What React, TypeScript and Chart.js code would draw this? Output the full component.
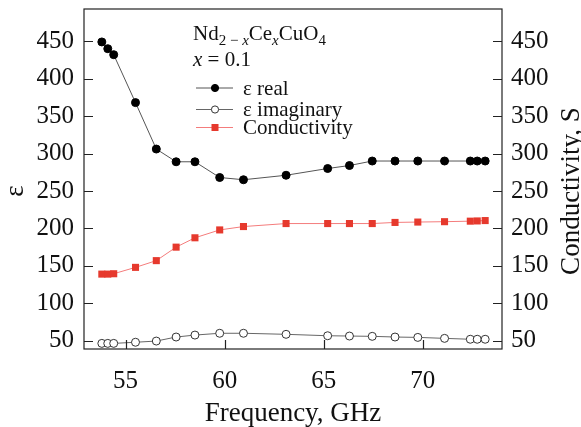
import React, { useEffect, useRef } from 'react';
import { Chart, registerables } from 'chart.js';

Chart.register(...registerables);

// ---- data ----
const frequency = [53.8, 54.1, 54.4, 55.5, 56.55, 57.55, 58.5, 59.75, 60.95, 63.1, 65.2, 66.3, 67.45, 68.6, 69.75, 71.1, 72.4, 72.75, 73.15];
const epsReal = [449, 440, 432, 368, 306, 289, 289, 268, 265, 271, 280, 284, 290, 290, 290, 290, 290, 290, 290];
const epsImag = [46.5, 46.5, 46.5, 48, 49.6, 55, 57.6, 60, 60, 58.6, 56.7, 56.3, 55.9, 55, 54.5, 53.2, 52, 52, 52];
const conductivity = [139, 139, 139.5, 148, 157, 175, 187.5, 198, 202.5, 206.5, 206.5, 206.5, 206.5, 208, 208.5, 209, 209.7, 210, 210.5];

const xTicks = [55, 60, 65, 70];
const yTicks = [50, 100, 150, 200, 250, 300, 350, 400, 450];
const xMin = 52.9;
const xMax = 74.0;
const yMin = 39;
const yMax = 493;

const seriesLabels = ['ε real', 'ε imaginary', 'Conductivity'];
const xTitle = 'Frequency, GHz';
const yTitle = 'ε';
const y2Title = 'Conductivity, S';

const SERIF = '"Liberation Serif", "Times New Roman", serif';

const framePlugin = {
  id: 'frameAndTicks',
  afterDraw(chart: any) {
    const { ctx, chartArea: ca, scales } = chart;
    ctx.save();
    ctx.strokeStyle = '#222';
    ctx.lineWidth = 1.2;
    ctx.strokeRect(ca.left, ca.top, ca.right - ca.left, ca.bottom - ca.top);
    const tl = 9;
    ctx.beginPath();
    scales.x.ticks.forEach((t: any) => {
      const px = Math.round(scales.x.getPixelForValue(t.value)) + 0.5;
      ctx.moveTo(px, ca.bottom);
      ctx.lineTo(px, ca.bottom - tl);
    });
    scales.y.ticks.forEach((t: any) => {
      const py = Math.round(scales.y.getPixelForValue(t.value)) + 0.5;
      ctx.moveTo(ca.left, py);
      ctx.lineTo(ca.left + tl, py);
    });
    scales.y2.ticks.forEach((t: any) => {
      const py = Math.round(scales.y2.getPixelForValue(t.value)) + 0.5;
      ctx.moveTo(ca.right, py);
      ctx.lineTo(ca.right - tl, py);
    });
    ctx.stroke();

    // vertical axis titles
    ctx.fillStyle = '#111';
    ctx.font = `27px ${SERIF}`;
    ctx.textAlign = 'center';
    ctx.textBaseline = 'middle';
    const midY = (ca.top + ca.bottom) / 2 + 12;
    ctx.save();
    ctx.translate(ca.left - 68, midY);
    ctx.rotate(-Math.PI / 2);
    ctx.fillText(yTitle, 0, 0);
    ctx.restore();
    ctx.save();
    ctx.translate(ca.right + 70, midY);
    ctx.rotate(-Math.PI / 2);
    ctx.fillText(y2Title, 0, 0);
    ctx.restore();
    ctx.restore();
  },
};

const legendPlugin = {
  id: 'customLegend',
  afterDraw(chart: any) {
    const { ctx, chartArea: ca } = chart;
    const x0 = ca.left + 109;
    ctx.save();
    ctx.fillStyle = '#111';
    ctx.textAlign = 'left';
    ctx.textBaseline = 'alphabetic';
    const big = `21px ${SERIF}`;
    const bigIt = `italic 21px ${SERIF}`;
    const sub = `15px ${SERIF}`;
    const subIt = `italic 15px ${SERIF}`;
    const base1 = ca.top + 31;
    const parts: [string, string, number][] = [
      ['Nd', big, 0],
      ['2 − ', sub, 5],
      ['x', subIt, 5],
      ['Ce', big, 0],
      ['x', subIt, 5],
      ['CuO', big, 0],
      ['4', sub, 5],
    ];
    let cx = x0;
    parts.forEach(([txt, font, dy]) => {
      ctx.font = font;
      ctx.fillText(txt, cx, base1 + dy);
      cx += ctx.measureText(txt).width;
    });
    const base2 = ca.top + 57;
    ctx.font = bigIt;
    ctx.fillText('x', x0, base2);
    const w = ctx.measureText('x').width;
    ctx.font = big;
    ctx.fillText(' = 0.1', x0 + w, base2);

    const rows = [ca.top + 79, ca.top + 100.5, ca.top + 118.5];
    chart.data.datasets.forEach((ds: any, i: number) => {
      const y = rows[i];
      ctx.strokeStyle = ds.borderColor;
      ctx.lineWidth = 1;
      ctx.beginPath();
      ctx.moveTo(x0 + 3, y);
      ctx.lineTo(x0 + 40, y);
      ctx.stroke();
      const mx = x0 + 22;
      ctx.fillStyle = ds.pointBackgroundColor;
      ctx.strokeStyle = ds.pointBorderColor;
      if (ds.pointStyle === 'rect') {
        ctx.fillRect(mx - 3.5, y - 3.5, 7, 7);
      } else {
        ctx.beginPath();
        ctx.arc(mx, y, 3.6, 0, Math.PI * 2);
        ctx.fill();
        ctx.stroke();
      }
      ctx.fillStyle = '#111';
      ctx.font = big;
      ctx.textBaseline = 'middle';
      ctx.fillText(ds.label, x0 + 50, y + 1);
    });
    ctx.restore();
  },
};

export default function App() {
  const ref = useRef<HTMLCanvasElement | null>(null);
  useEffect(() => {
    if (!ref.current) return;
    const tickFont = { family: SERIF, size: 25 };
    const noPadV = (s: any, w: number) => { s.width = w; s.paddingTop = 0; s.paddingBottom = 0; };
    const chart = new Chart(ref.current, {
      type: 'line',
      data: {
        datasets: [
          {
            label: seriesLabels[0],
            data: frequency.map((f, i) => ({ x: f, y: epsReal[i] })),
            yAxisID: 'y',
            borderColor: '#555',
            borderWidth: 1,
            pointBackgroundColor: '#000',
            pointBorderColor: '#000',
            pointRadius: 4,
            pointBorderWidth: 1,
            pointStyle: 'circle',
          },
          {
            label: seriesLabels[1],
            data: frequency.map((f, i) => ({ x: f, y: epsImag[i] })),
            yAxisID: 'y',
            borderColor: '#666',
            borderWidth: 1,
            pointBackgroundColor: '#fff',
            pointBorderColor: '#333',
            pointRadius: 4,
            pointBorderWidth: 1,
            pointStyle: 'circle',
          },
          {
            label: seriesLabels[2],
            data: frequency.map((f, i) => ({ x: f, y: conductivity[i] })),
            yAxisID: 'y2',
            borderColor: '#f47c7c',
            borderWidth: 1,
            pointBackgroundColor: '#e6392d',
            pointBorderColor: '#e6392d',
            pointRadius: 5,
            pointBorderWidth: 0,
            pointStyle: 'rect',
          },
        ] as any,
      },
      options: {
        responsive: false,
        animation: false,
        layout: { padding: { top: 9, left: 0, right: 0, bottom: 0 } },
        plugins: { legend: { display: false }, tooltip: { enabled: false } },
        scales: {
          x: {
            type: 'linear',
            min: xMin,
            max: xMax,
            afterBuildTicks: (s: any) => { s.ticks = xTicks.map((v) => ({ value: v })); },
            afterFit: (s: any) => { s.height = 78; s.paddingLeft = 0; s.paddingRight = 0; },
            grid: { display: false, drawTicks: false },
            border: { display: false },
            ticks: { font: tickFont, color: '#111', padding: 17, maxRotation: 0 },
            title: { display: true, text: xTitle, font: { family: SERIF, size: 27 }, color: '#111', padding: { top: 0, bottom: -3 } },
          },
          y: {
            type: 'linear',
            position: 'left',
            min: yMin,
            max: yMax,
            afterBuildTicks: (s: any) => { s.ticks = yTicks.map((v) => ({ value: v })); },
            afterFit: (s: any) => noPadV(s, 84),
            grid: { display: false, drawTicks: false },
            border: { display: false },
            ticks: { font: tickFont, color: '#111', padding: 10 },
          },
          y2: {
            type: 'linear',
            position: 'right',
            min: yMin,
            max: yMax,
            afterBuildTicks: (s: any) => { s.ticks = yTicks.map((v) => ({ value: v })); },
            afterFit: (s: any) => noPadV(s, 79),
            grid: { display: false, drawTicks: false },
            border: { display: false },
            ticks: { font: tickFont, color: '#111', padding: 9 },
          },
        },
      } as any,
      plugins: [framePlugin, legendPlugin],
    });
    return () => chart.destroy();
  }, []);
  return (
    <div style={{ position: 'absolute', left: 0, top: 0, width: 581, height: 427, background: '#fff' }}>
      <canvas ref={ref} width={581} height={427} />
    </div>
  );
}
